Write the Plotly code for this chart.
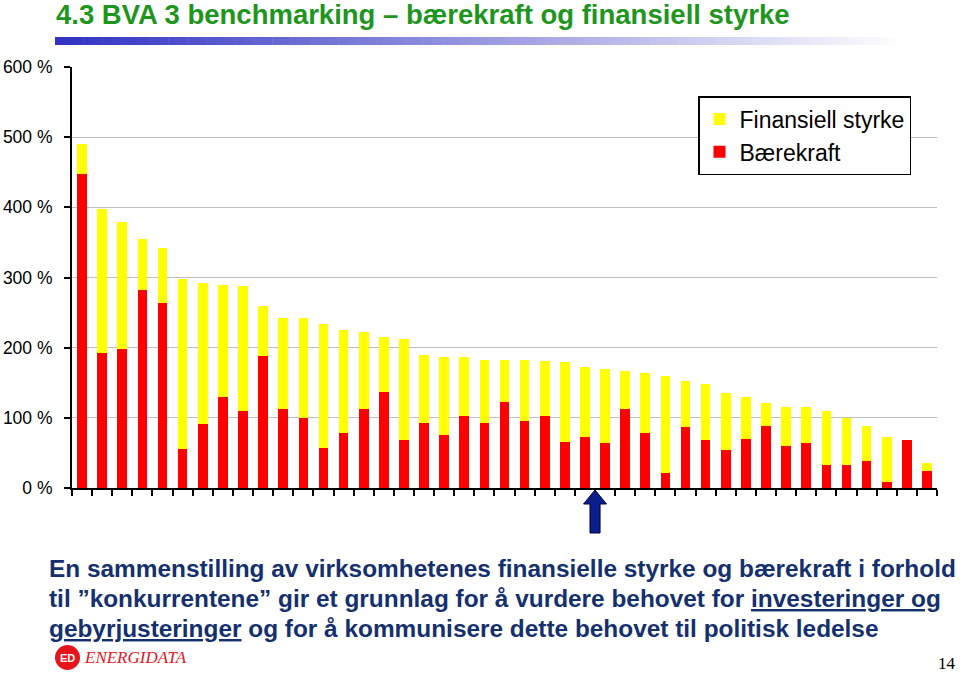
import plotly.graph_objects as go

# ---- data ----
categories = ["1", "2", "3", "4", "5", "6", "7", "8", "9", "10", "11", "12", "13", "14", "15",
              "16", "17", "18", "19", "20", "21", "22", "23", "24", "25", "26", "27", "28", "29",
              "30", "31", "32", "33", "34", "35", "36", "37", "38", "39", "40", "41", "42", "43"]
baerekraft = [447, 192, 198, 282, 263, 56, 91, 129, 110, 188, 112, 100, 57, 78, 112, 137, 68, 93,
              75, 102, 93, 122, 95, 102, 66, 72, 64, 112, 79, 22, 87, 68, 54, 70, 89, 60, 64, 33,
              33, 39, 8, 68, 24]
finansiell = [43, 206, 181, 73, 79, 242, 201, 161, 178, 71, 130, 142, 177, 147, 111, 78, 144, 96,
              112, 85, 90, 61, 88, 79, 113, 101, 106, 55, 85, 138, 65, 80, 81, 59, 32, 56, 52, 77,
              67, 50, 65, 0, 11]
y_ticks = [0, 100, 200, 300, 400, 500, 600]
y_tick_labels = ["0 %", "100 %", "200 %", "300 %", "400 %", "500 %", "600 %"]
arrow_at = 25.5  # boundary the arrow points to (category index)

# ---- layout geometry helpers (pixel -> paper) ----
W, H = 960, 674
L, R, T, B = 72, 23, 67, 186
PW, PH = W - L - R, H - T - B


def px(x):
    return (x - L) / PW


def py(y):
    return (H - B - y) / PH


fig = go.Figure()
fig.add_trace(go.Bar(x=categories, y=baerekraft, name="Bærekraft",
                     marker=dict(color="#ff0000", line=dict(width=0))))
fig.add_trace(go.Bar(x=categories, y=finansiell, name="Finansiell styrke",
                     marker=dict(color="#ffff00", line=dict(width=0))))

shapes = []
# gradient bar under title
n = 90
x_start, x_end = 55, 905
for i in range(n):
    t = i / (n - 1)
    r = int(50 + (255 - 50) * t)
    g = int(50 + (255 - 50) * t)
    b = int(195 + (255 - 195) * t)
    x0 = x_start + (x_end - x_start) * i / n
    x1 = x_start + (x_end - x_start) * (i + 1) / n + 0.5
    shapes.append(dict(type="rect", xref="paper", yref="paper",
                       x0=px(x0), x1=px(x1), y0=py(45), y1=py(37),
                       fillcolor=f"rgb({r},{g},{b})", line=dict(width=0), layer="above"))

# arrow
hw, sw = 0.57, 0.25
yt, yb, ye = py(490), py(504), py(533)
path = (f"M {arrow_at} {yt} L {arrow_at + hw} {yb} L {arrow_at + sw} {yb} "
        f"L {arrow_at + sw} {ye} L {arrow_at - sw} {ye} L {arrow_at - sw} {yb} "
        f"L {arrow_at - hw} {yb} Z")
shapes.append(dict(type="path", xref="x", yref="paper", path=path,
                   fillcolor="#0a1e8c", line=dict(color="#000040", width=1)))

# logo circle
shapes.append(dict(type="circle", xref="paper", yref="paper",
                   x0=px(55), x1=px(80), y0=py(670), y1=py(645),
                   fillcolor="#e8141c", line=dict(width=0)))

TXT = "#14306e"
FS = 24.4
annotations = [
    dict(text="4.3 BVA 3 benchmarking – bærekraft og finansiell styrke",
         xref="paper", yref="paper", x=px(54), y=py(14), xanchor="left", yanchor="middle",
         showarrow=False,
         font=dict(family="Liberation Sans Narrow, Arial Narrow, Liberation Sans, Arial",
                   size=27.5, color="#1e961e", weight="bold")),
    dict(text="En sammenstilling av virksomhetenes finansielle styrke og bærekraft i forhold",
         xref="paper", yref="paper", x=px(47), y=py(568), xanchor="left", yanchor="middle",
         showarrow=False,
         font=dict(family="Liberation Sans, Arial", size=FS, color=TXT, weight="bold")),
    dict(text="til ”konkurrentene” gir et grunnlag for å vurdere behovet for <u>investeringer og</u>",
         xref="paper", yref="paper", x=px(47), y=py(598), xanchor="left", yanchor="middle",
         showarrow=False,
         font=dict(family="Liberation Sans, Arial", size=FS, color=TXT, weight="bold")),
    dict(text="<u>gebyrjusteringer</u> og for å kommunisere dette behovet til politisk ledelse",
         xref="paper", yref="paper", x=px(47), y=py(628), xanchor="left", yanchor="middle",
         showarrow=False,
         font=dict(family="Liberation Sans, Arial", size=FS, color=TXT, weight="bold")),
    dict(text="<i>ENERGIDATA</i>", xref="paper", yref="paper", x=px(82), y=py(657),
         xanchor="left", yanchor="middle", showarrow=False,
         font=dict(family="Liberation Serif, Times New Roman", size=17, color="#e8141c")),
    dict(text="<b>ED</b>", xref="paper", yref="paper", x=px(67.5), y=py(657.5),
         xanchor="center", yanchor="middle", showarrow=False,
         font=dict(family="Liberation Sans Narrow, Liberation Sans", size=11, color="white")),
    dict(text="14", xref="paper", yref="paper", x=px(958), y=py(663),
         xanchor="right", yanchor="middle", showarrow=False,
         font=dict(family="Liberation Serif, Times New Roman", size=17, color="black")),
]

fig.update_layout(
    width=W, height=H,
    margin=dict(l=L, r=R, t=T, b=B, pad=0, autoexpand=False),
    paper_bgcolor="white", plot_bgcolor="white",
    barmode="stack", bargap=0.52,
    showlegend=True,
    legend=dict(x=px(698), y=py(96), xanchor="left", yanchor="top",
                traceorder="reversed", bgcolor="white",
                bordercolor="black", borderwidth=1.5,
                font=dict(family="Liberation Sans, Arial", size=23, color="black"),
                itemwidth=30, tracegroupgap=0),
    xaxis=dict(type="category", showticklabels=False, ticks="outside", tickson="boundaries",
               ticklen=6, tickwidth=1.5, tickcolor="black", automargin=False,
               showline=True, linecolor="black", linewidth=2,
               showgrid=False, range=[-0.5, len(categories) - 0.5], fixedrange=True),
    yaxis=dict(range=[0, 600], tickvals=y_ticks, ticktext=y_tick_labels,
               ticks="outside", ticklen=6, tickwidth=1.5, tickcolor="black",
               ticklabelstandoff=8, automargin=False, fixedrange=True,
               showline=True, linecolor="black", linewidth=2,
               showgrid=True, gridcolor="#c0c0c0", gridwidth=1, zeroline=False,
               tickfont=dict(family="Liberation Sans, Arial", size=17.5, color="black")),
    shapes=shapes,
    annotations=annotations,
)

fig.write_html("out.html",
               config={"displayModeBar": False},
               post_script="document.body.style.margin='0';document.body.style.overflow='hidden';")
